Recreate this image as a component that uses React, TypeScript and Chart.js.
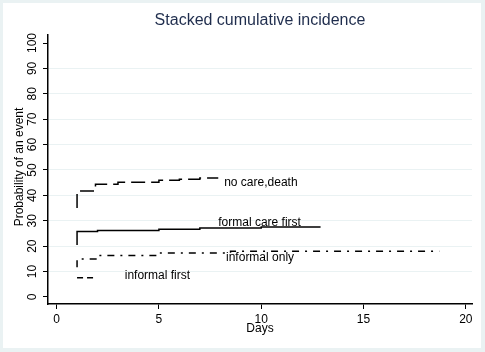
import React, { useEffect, useRef } from "react";
import { Chart, registerables } from "chart.js";

Chart.register(...registerables);

const chartTitle = "Stacked cumulative incidence";
const xTitle = "Days";
const yTitle = "Probability of an event";
const xTicks = [0, 5, 10, 15, 20];
const yTicks = [0, 10, 20, 30, 40, 50, 60, 70, 80, 90, 100];

const noCareDays = [1, 1, 1.9, 3, 5, 6, 7, 7.9];
const noCareValues = [35, 41.7, 44.4, 45.2, 46.0, 46.4, 46.8, 46.8];

const formalDays = [1, 1, 2, 5, 7, 10, 12.9];
const formalValues = [20.5, 25.8, 26.2, 26.7, 27.2, 27.6, 27.6];

const informalOnlyDays = [1, 1, 2, 5, 8.5, 18.7];
const informalOnlyValues = [11.7, 15, 16.3, 17.3, 18, 18];

const informalFirstDays = [1, 1.9];
const informalFirstValues = [7.6, 7.6];

const curveLabels = ["no care,death", "formal care first", "informal only", "informal first"];
const curveLabelX = [8.19, 7.9, 8.28, 3.33];
const curveLabelY = [44.9, 29.3, 15.4, 8.3];

const FONT = "Arial, 'Liberation Sans', sans-serif";

function pts(xs: number[], ys: number[]) {
  return xs.map((x, i) => ({ x, y: ys[i] }));
}

const decorPlugin = {
  id: "decor",
  beforeDraw(chart: any) {
    const { ctx, width, height } = chart;
    ctx.save();
    ctx.fillStyle = "#eaf2f3";
    ctx.fillRect(0, 0, width, height);
    ctx.fillStyle = "#ffffff";
    ctx.fillRect(3, 3, 478, 345);
    ctx.restore();
  },
  afterDraw(chart: any) {
    const { ctx, chartArea } = chart;
    const xs = chart.scales.x;
    const ys = chart.scales.y;
    ctx.save();
    // title
    ctx.fillStyle = "#1f2d4d";
    ctx.font = `16px ${FONT}`;
    ctx.textAlign = "center";
    ctx.textBaseline = "middle";
    ctx.fillText(chartTitle, 260, 21);
    // y tick labels rotated
    ctx.fillStyle = "#000";
    ctx.font = `12px ${FONT}`;
    for (const v of yTicks) {
      const py = ys.getPixelForValue(v);
      ctx.save();
      ctx.translate(33, py);
      ctx.rotate(-Math.PI / 2);
      ctx.textAlign = "center";
      ctx.textBaseline = "middle";
      ctx.fillText(String(v), 0, 0);
      ctx.restore();
    }
    // y title
    ctx.save();
    ctx.translate(20, 167);
    ctx.rotate(-Math.PI / 2);
    ctx.textAlign = "center";
    ctx.textBaseline = "middle";
    ctx.font = `12px ${FONT}`;
    ctx.fillText(yTitle, 0, 0);
    ctx.restore();
    // x title
    ctx.textAlign = "center";
    ctx.textBaseline = "middle";
    ctx.fillText(xTitle, (chartArea.left + chartArea.right) / 2, 329);
    // curve labels
    ctx.textAlign = "left";
    ctx.textBaseline = "middle";
    ctx.font = `12px ${FONT}`;
    curveLabels.forEach((t, i) => {
      ctx.fillText(t, xs.getPixelForValue(curveLabelX[i]), ys.getPixelForValue(curveLabelY[i]));
    });
    ctx.restore();
  },
};

export default function App() {
  const ref = useRef<HTMLCanvasElement | null>(null);
  useEffect(() => {
    if (!ref.current) return;
    const common = {
      borderColor: "#000",
      borderWidth: 1.5,
      pointRadius: 0,
      stepped: true,
      fill: false,
    };
    const chart = new Chart(ref.current, {
      type: "line",
      data: {
        datasets: [
          { ...common, label: curveLabels[0], data: pts(noCareDays, noCareValues), borderDash: [14, 6] },
          { ...common, label: curveLabels[1], data: pts(formalDays, formalValues) },
          { ...common, label: curveLabels[2], data: pts(informalOnlyDays, informalOnlyValues), borderDash: [7, 6, 2, 6] },
          { ...common, label: curveLabels[3], data: pts(informalFirstDays, informalFirstValues), borderDash: [6, 4] },
        ] as any,
      },
      options: {
        animation: false,
        responsive: false,
        layout: { padding: { left: 0, top: 35, right: 13, bottom: 0 } },
        plugins: { legend: { display: false }, title: { display: false }, tooltip: { enabled: false } },
        scales: {
          x: {
            type: "linear",
            min: -0.42,
            max: 20.3,
            afterBuildTicks: (s: any) => {
              s.ticks = xTicks.map((v) => ({ value: v }));
            },
            afterFit: (s: any) => {
              s.height = 48;
            },
            grid: { drawOnChartArea: false, tickLength: 5, tickColor: "#000", tickWidth: 1 },
            border: { display: true, color: "#000", width: 1.5 },
            ticks: { color: "#000", font: { family: FONT, size: 12 }, padding: 3, maxRotation: 0 },
          },
          y: {
            type: "linear",
            min: -2.76,
            max: 103.15,
            afterBuildTicks: (s: any) => {
              s.ticks = yTicks.map((v) => ({ value: v }));
            },
            afterFit: (s: any) => {
              s.width = 48;
            },
            grid: {
              color: (c: any) =>
                c.tick && (c.tick.value === 0 || c.tick.value === 100) ? "rgba(0,0,0,0)" : "#eaf2f3",
              tickLength: 5,
              tickColor: "#000",
              lineWidth: 1,
            },
            border: { display: true, color: "#000", width: 1.5 },
            ticks: { display: false },
          },
        },
      } as any,
      plugins: [decorPlugin],
    });
    return () => chart.destroy();
  }, []);
  return (
    <div style={{ position: "absolute", left: 0, top: 0, width: 485, height: 352 }}>
      <canvas ref={ref} width={485} height={352} />
    </div>
  );
}
